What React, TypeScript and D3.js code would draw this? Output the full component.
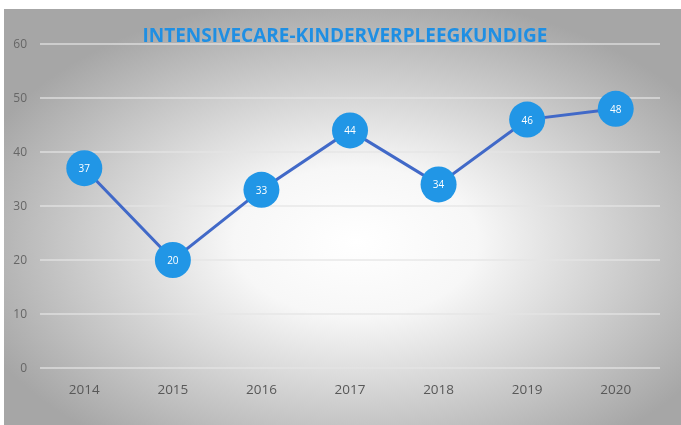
import React, { useEffect, useRef } from 'react';
import * as d3 from 'd3';

const years = ['2014', '2015', '2016', '2017', '2018', '2019', '2020'];
const values = [37, 20, 33, 44, 34, 46, 48];
const yTicks = [0, 10, 20, 30, 40, 50, 60];

const App = () => {
  const chartRef = useRef<SVGSVGElement>(null);

  useEffect(() => {
    const width = 681;
    const height = 425;
    const margin = { top: 44, right: 21, bottom: 57, left: 40 };

    const svg = d3.select(chartRef.current);
    svg.selectAll('*').remove();

    // Background gradient
    const defs = svg.append('defs');
    const grad = defs.append('radialGradient')
      .attr('id', 'bg')
      .attr('cx', '52%')
      .attr('cy', '56%')
      .attr('r', '60%');
    grad.append('stop').attr('offset', '0%').attr('stop-color', '#ffffff');
    grad.append('stop').attr('offset', '30%').attr('stop-color', '#f7f7f7');
    grad.append('stop').attr('offset', '100%').attr('stop-color', '#a6a6a6');

    svg.append('rect')
      .attr('x', 4)
      .attr('y', 9)
      .attr('width', width - 4)
      .attr('height', height - 9)
      .attr('fill', 'url(#bg)');

    const x = d3.scaleBand()
      .domain(years)
      .range([margin.left, width - margin.right]);

    const y = d3.scaleLinear()
      .domain([0, 60])
      .range([height - margin.bottom, margin.top]);

    // Grid lines
    svg.append('g')
      .selectAll('line')
      .data(yTicks)
      .enter()
      .append('line')
      .attr('x1', margin.left)
      .attr('x2', width - margin.right)
      .attr('y1', d => y(d))
      .attr('y2', d => y(d))
      .attr('stroke', '#e4e4e4')
      .attr('stroke-opacity', 0.85)
      .attr('stroke-width', 1.5);

    // Y labels
    svg.append('g')
      .selectAll('text')
      .data(yTicks)
      .enter()
      .append('text')
      .attr('x', 27)
      .attr('y', d => y(d) + 4)
      .attr('text-anchor', 'end')
      .attr('fill', '#666666')
      .attr('font-family', 'Open Sans, sans-serif')
      .attr('font-size', '12px')
      .text(d => d);

    // X labels
    svg.append('g')
      .selectAll('text')
      .data(years)
      .enter()
      .append('text')
      .attr('x', d => (x(d) as number) + x.bandwidth() / 2)
      .attr('y', height - margin.bottom + 26)
      .attr('text-anchor', 'middle')
      .attr('fill', '#585858')
      .attr('font-family', 'Open Sans, sans-serif')
      .attr('font-size', '13.5px')
      .text(d => d);

    // Line
    const line = d3.line<number>()
      .x((d, i) => (x(years[i]) as number) + x.bandwidth() / 2)
      .y(d => y(d));

    svg.append('path')
      .datum(values)
      .attr('d', line)
      .attr('fill', 'none')
      .attr('stroke', '#4169c8')
      .attr('stroke-width', 3);

    // Markers
    const pts = svg.append('g')
      .selectAll('g')
      .data(values)
      .enter()
      .append('g')
      .attr('transform', (d, i) => `translate(${(x(years[i]) as number) + x.bandwidth() / 2},${y(d)})`);

    pts.append('circle')
      .attr('r', 18)
      .attr('fill', '#2196e6');

    pts.append('text')
      .attr('y', 4)
      .attr('text-anchor', 'middle')
      .attr('fill', '#ffffff')
      .attr('font-family', 'Open Sans, sans-serif')
      .attr('font-size', '10px')
      .text(d => d);

    // Title
    svg.append('text')
      .attr('x', 345)
      .attr('y', 42)
      .attr('text-anchor', 'middle')
      .attr('fill', '#1f8fe3')
      .attr('font-family', 'Open Sans, sans-serif')
      .attr('font-weight', 'bold')
      .attr('font-size', '19px')
      .attr('textLength', 405)
      .attr('lengthAdjust', 'spacingAndGlyphs')
      .text('INTENSIVECARE-KINDERVERPLEEGKUNDIGE');
  }, []);

  return (
    <div style={{ position: 'fixed', left: 0, top: 0 }}>
      <svg ref={chartRef} width={681} height={425} style={{ display: 'block' }}></svg>
    </div>
  );
};

export default App;
